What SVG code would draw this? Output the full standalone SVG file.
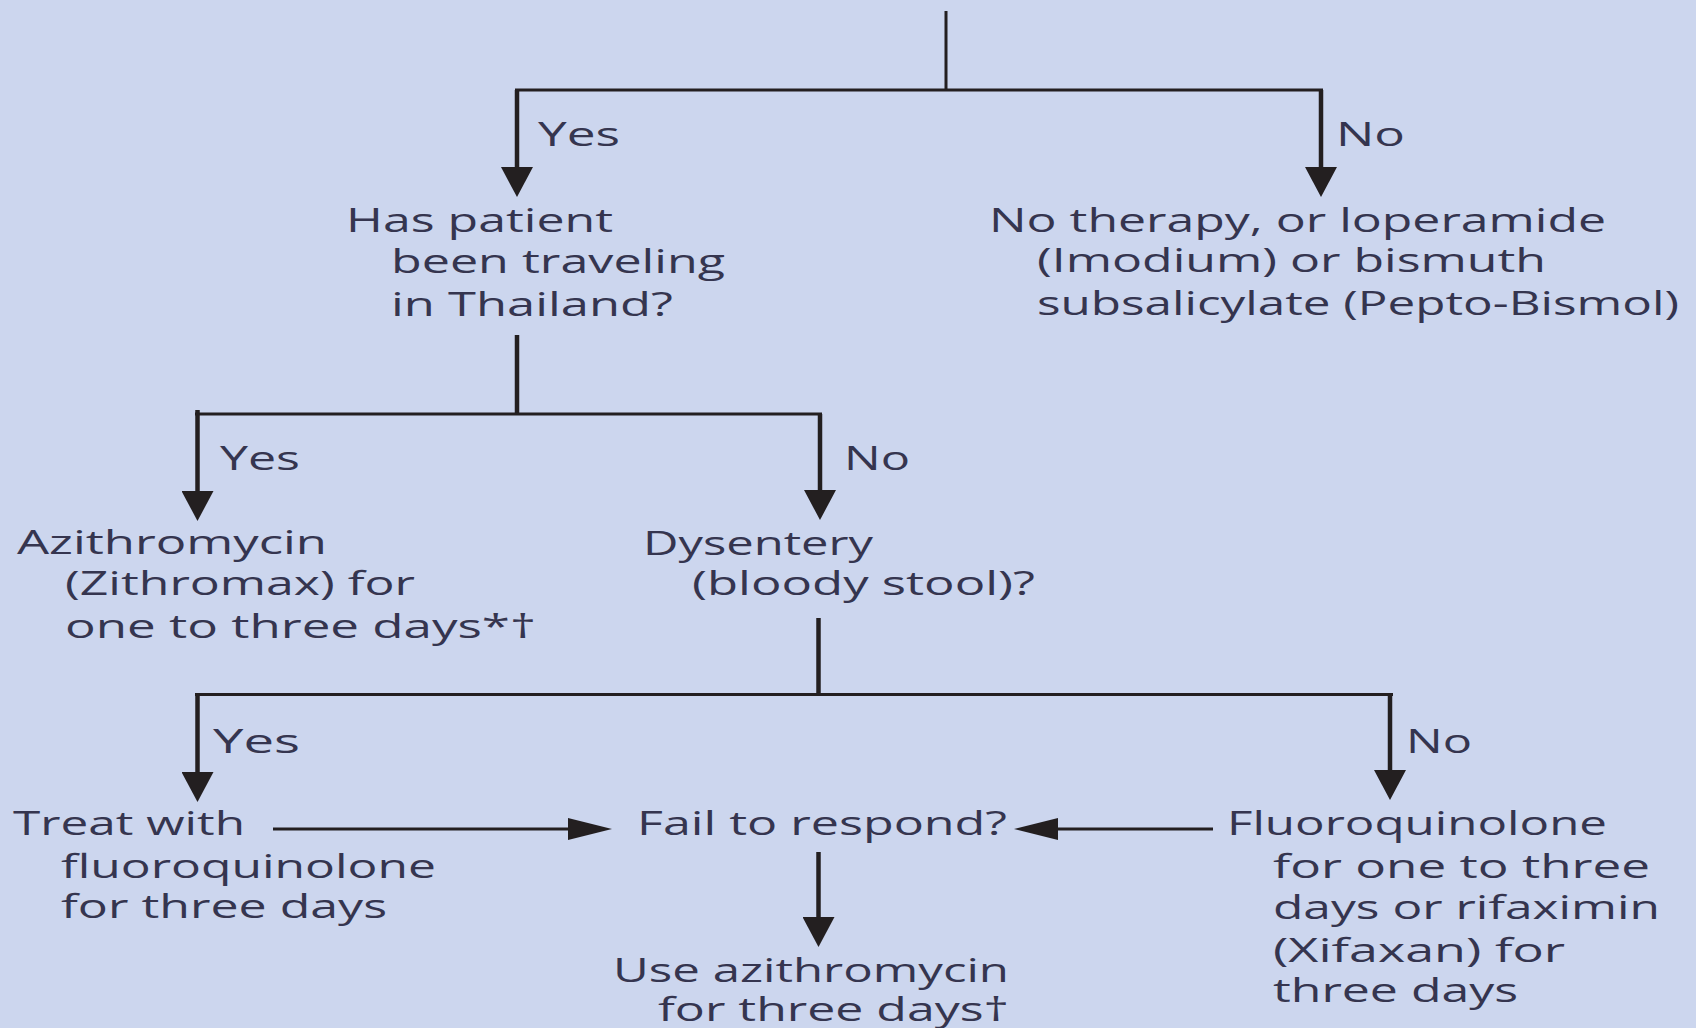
<svg xmlns="http://www.w3.org/2000/svg" width="1696" height="1028" viewBox="0 0 1696 1028">
<style>
.bg{fill:#ccd6ee}
.t{font-family:"Open Sans","Liberation Sans",sans-serif;font-size:33px;fill:#35354f}
.c{stroke:#231f20;fill:none}
.v{stroke-width:4.5}
.h{stroke-width:3.2}
</style>
<defs>
<marker id="arrV" markerUnits="userSpaceOnUse" markerWidth="30" markerHeight="32" viewBox="0 0 30 32" refX="0" refY="16" orient="auto"><path d="M0,0 L30,16 L0,32 z" fill="#231f20"/></marker>
<marker id="arrH" markerUnits="userSpaceOnUse" markerWidth="44" markerHeight="22" viewBox="0 0 44 22" refX="0" refY="11" orient="auto"><path d="M0,0 L44,11 L0,22 z" fill="#231f20"/></marker>
</defs>
<rect class="bg" x="0" y="0" width="1696" height="1028"/>
<g id="connectors">
<line class="c" x1="946" y1="11" x2="946" y2="90" stroke-width="3"/>
<line class="c h" x1="515" y1="90" x2="1323" y2="90"/>
<line class="c v" x1="517" y1="90" x2="517" y2="167" marker-end="url(#arrV)"/>
<line class="c v" x1="1321" y1="90" x2="1321" y2="167" marker-end="url(#arrV)"/>
<line class="c v" x1="517" y1="335" x2="517" y2="414"/>
<line class="c h" x1="195" y1="414" x2="822" y2="414"/>
<line class="c v" x1="197.5" y1="410" x2="197.5" y2="491" marker-end="url(#arrV)"/>
<line class="c v" x1="820" y1="414" x2="820" y2="490" marker-end="url(#arrV)"/>
<line class="c v" x1="818.5" y1="618" x2="818.5" y2="694"/>
<line class="c h" x1="195" y1="694.5" x2="1393" y2="694.5"/>
<line class="c v" x1="197.5" y1="693" x2="197.5" y2="772" marker-end="url(#arrV)"/>
<line class="c v" x1="1390" y1="694" x2="1390" y2="770" marker-end="url(#arrV)"/>
<line class="c v" x1="818.5" y1="852" x2="818.5" y2="917" marker-end="url(#arrV)"/>
<line class="c h" x1="273" y1="829" x2="568" y2="829" marker-end="url(#arrH)"/>
<line class="c h" x1="1213" y1="829" x2="1058" y2="829" marker-end="url(#arrH)"/>
</g>
<g id="lbl-yes1"><text class="t" x="538" y="146" textLength="82" lengthAdjust="spacingAndGlyphs">Yes</text></g>
<g id="lbl-no1"><text class="t" x="1336" y="146" textLength="69" lengthAdjust="spacingAndGlyphs">No</text></g>
<g id="node-thailand">
<text class="t" x="346" y="232" textLength="267" lengthAdjust="spacingAndGlyphs">Has patient</text>
<text class="t" x="391" y="273" textLength="334" lengthAdjust="spacingAndGlyphs">been traveling</text>
<text class="t" x="391" y="316" textLength="282" lengthAdjust="spacingAndGlyphs">in Thailand?</text>
</g>
<g id="node-notherapy">
<text class="t" x="989" y="232" textLength="617" lengthAdjust="spacingAndGlyphs">No therapy, or loperamide</text>
<text class="t" x="1037" y="272" textLength="509" lengthAdjust="spacingAndGlyphs">(Imodium) or bismuth</text>
<text class="t" x="1037" y="315" textLength="642" lengthAdjust="spacingAndGlyphs">subsalicylate (Pepto-Bismol)</text>
</g>
<g id="lbl-yes2"><text class="t" x="220" y="470" textLength="80" lengthAdjust="spacingAndGlyphs">Yes</text></g>
<g id="lbl-no2"><text class="t" x="844" y="470" textLength="66" lengthAdjust="spacingAndGlyphs">No</text></g>
<g id="node-azithro">
<text class="t" x="17" y="554" textLength="310" lengthAdjust="spacingAndGlyphs">Azithromycin</text>
<text class="t" x="65" y="595" textLength="350" lengthAdjust="spacingAndGlyphs">(Zithromax) for</text>
<text class="t" x="65" y="638" textLength="471" lengthAdjust="spacingAndGlyphs">one to three days*†</text>
</g>
<g id="node-dysentery">
<text class="t" x="643" y="555" textLength="230" lengthAdjust="spacingAndGlyphs">Dysentery</text>
<text class="t" x="692" y="595" textLength="343" lengthAdjust="spacingAndGlyphs">(bloody stool)?</text>
</g>
<g id="lbl-yes3"><text class="t" x="213" y="753" textLength="87" lengthAdjust="spacingAndGlyphs">Yes</text></g>
<g id="lbl-no3"><text class="t" x="1406" y="753" textLength="66" lengthAdjust="spacingAndGlyphs">No</text></g>
<g id="node-treat">
<text class="t" x="13" y="835" textLength="232" lengthAdjust="spacingAndGlyphs">Treat with</text>
<text class="t" x="61" y="878" textLength="375" lengthAdjust="spacingAndGlyphs">fluoroquinolone</text>
<text class="t" x="61" y="918" textLength="326" lengthAdjust="spacingAndGlyphs">for three days</text>
</g>
<g id="node-fail">
<text class="t" x="637" y="835" textLength="370" lengthAdjust="spacingAndGlyphs">Fail to respond?</text>
</g>
<g id="node-fluoro">
<text class="t" x="1227" y="835" textLength="380" lengthAdjust="spacingAndGlyphs">Fluoroquinolone</text>
<text class="t" x="1273" y="878" textLength="377" lengthAdjust="spacingAndGlyphs">for one to three</text>
<text class="t" x="1273" y="919" textLength="387" lengthAdjust="spacingAndGlyphs">days or rifaximin</text>
<text class="t" x="1273" y="962" textLength="292" lengthAdjust="spacingAndGlyphs">(Xifaxan) for</text>
<text class="t" x="1273" y="1002" textLength="245" lengthAdjust="spacingAndGlyphs">three days</text>
</g>
<g id="node-useazithro">
<text class="t" x="613" y="982" textLength="396" lengthAdjust="spacingAndGlyphs">Use azithromycin</text>
<text class="t" x="658" y="1021" textLength="351" lengthAdjust="spacingAndGlyphs">for three days†</text>
</g>
</svg>
